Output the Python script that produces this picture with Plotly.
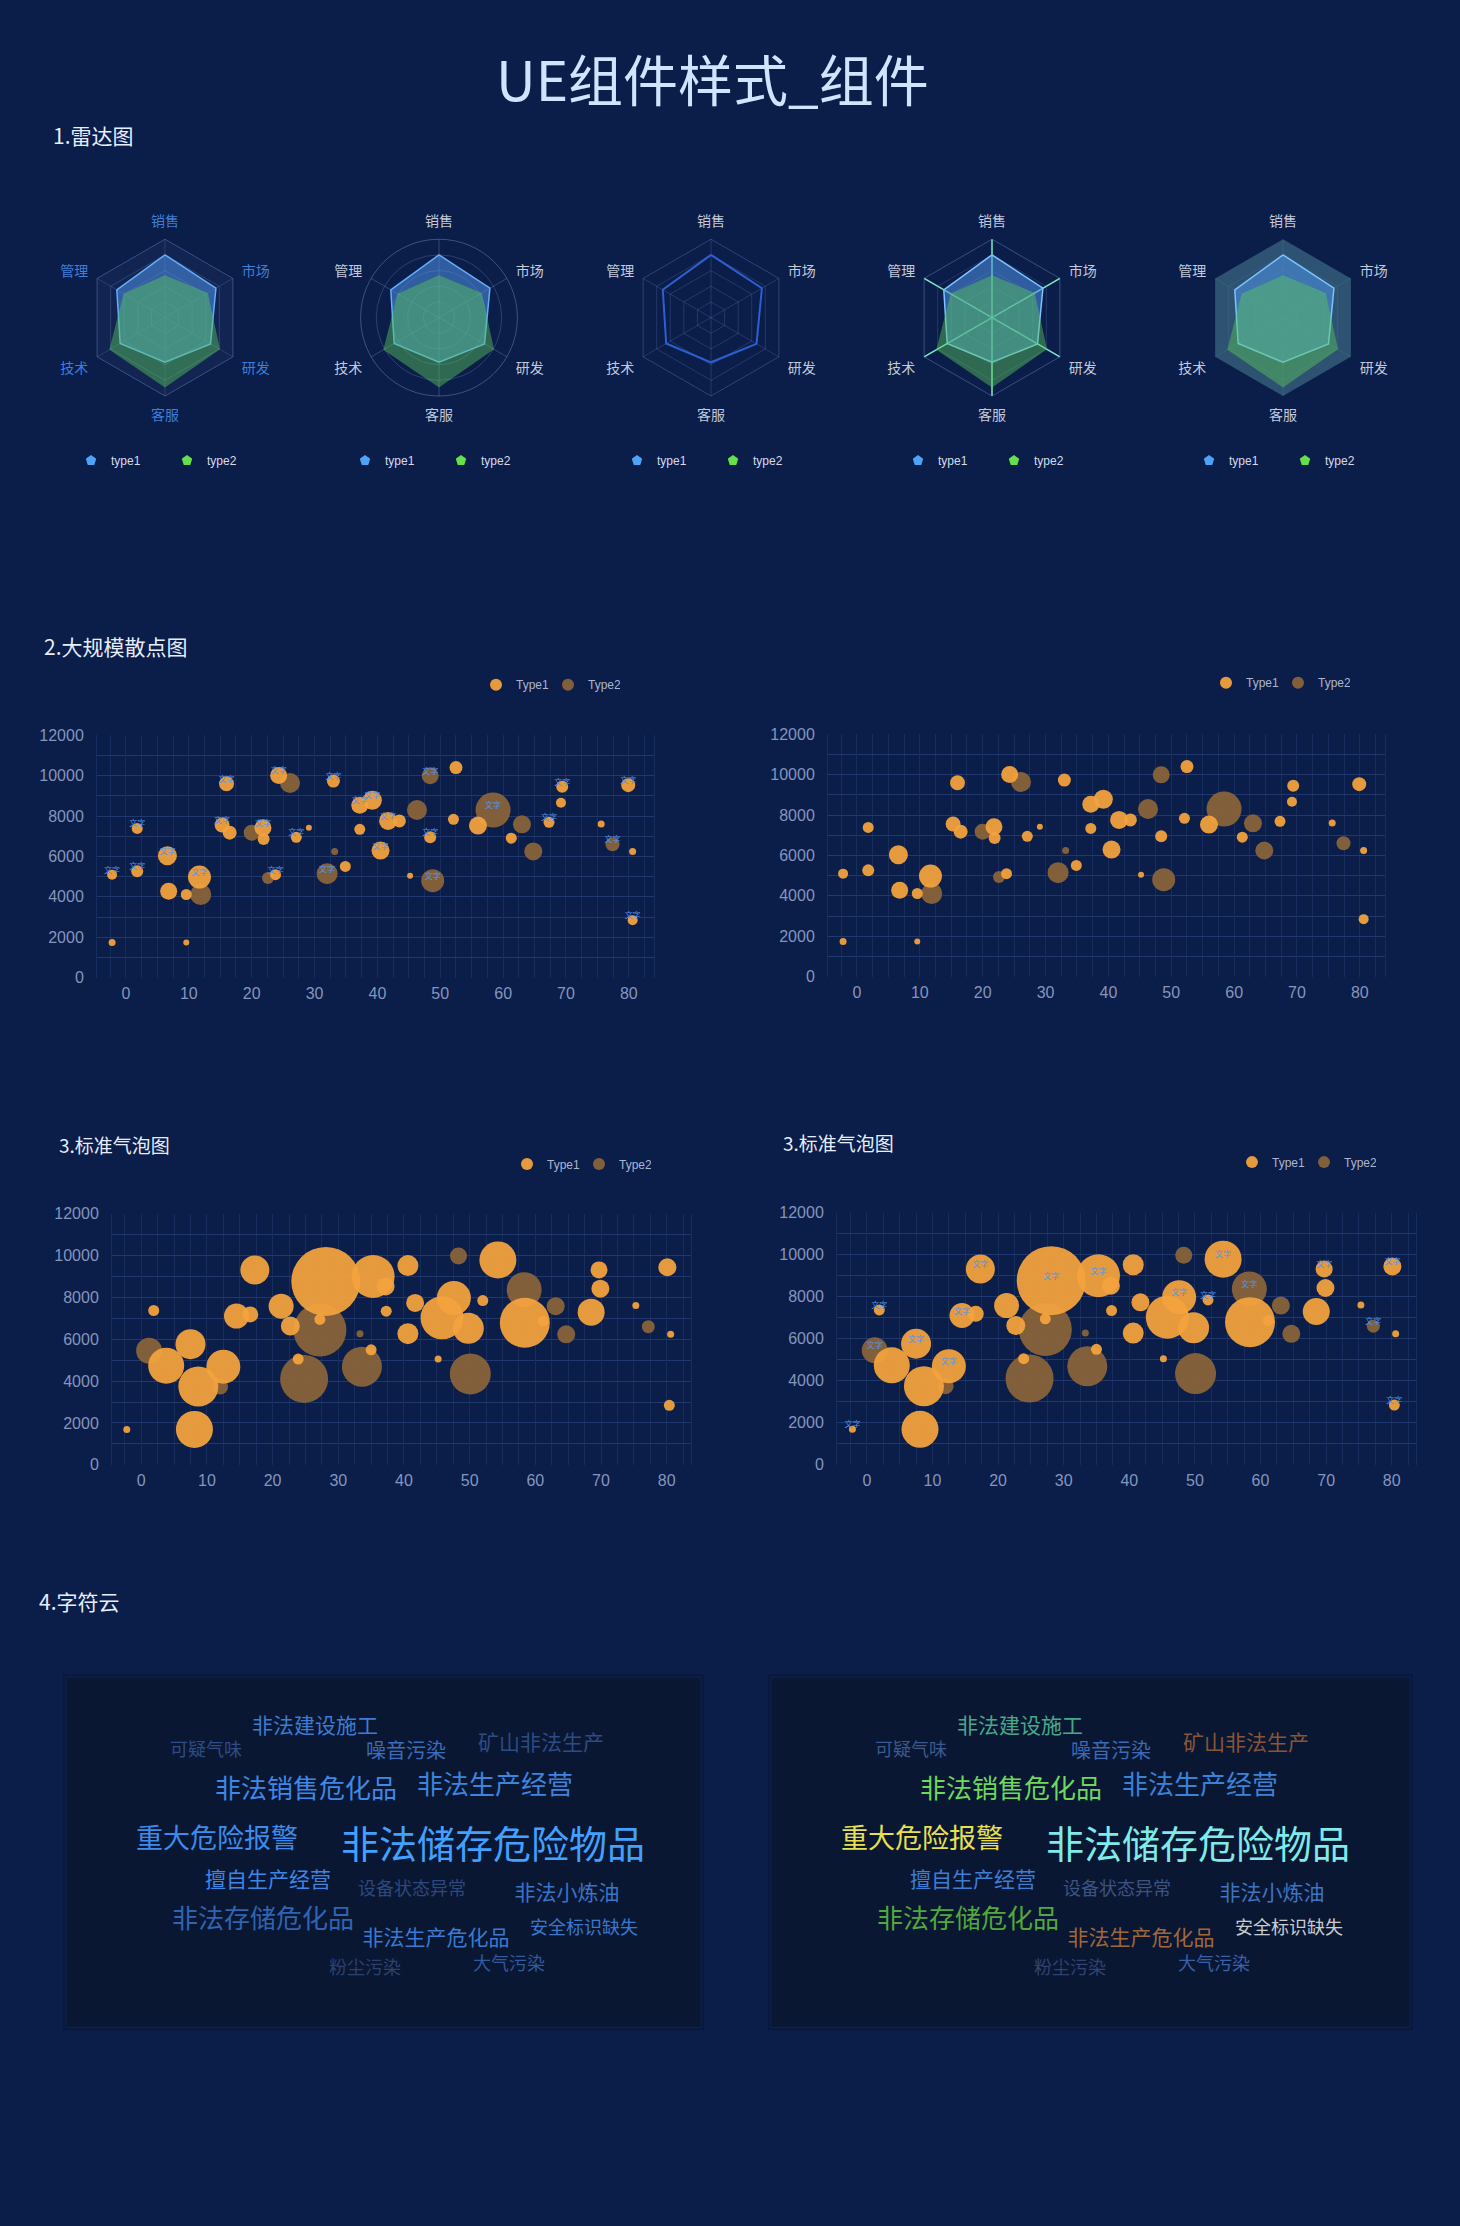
import plotly.graph_objects as go

W, H = 1460, 2226
BG = '#0b1d49'
FONT_CN = 'Noto Sans CJK SC'
FONT_NUM = 'Liberation Sans'


def fx(p):
    return p / W


def fy(p):
    return 1 - p / H


# ---------------- data ----------------
radar_axes = ['销售', '市场', '研发', '客服', '技术', '管理']
radar_type1 = [80, 75, 67, 57, 66, 71]
radar_type2 = [54, 63, 81, 89, 82, 61]
radar_names = ['type1', 'type2']

# large scatter (Type1 / Type2): x, y, size value
sc_t1_x = [-2.2, -2.2, 1.8, 1.8, 6.6, 6.8, 9.6, 9.6, 11.7, 16.0, 15.3, 16.5, 21.8, 21.9, 23.8, 24.3,
           27.1, 29.1, 33.0, 34.9, 37.2, 39.2, 37.2, 40.5, 41.7, 43.5, 45.2, 48.4, 52.5, 52.1, 56.0,
           61.3, 67.3, 69.4, 69.2, 75.6, 79.9, 80.6, 80.6]
sc_t1_y = [5100, 1736, 7392, 5262, 6034, 4279, 4115, 1736, 4982, 9605, 7559, 7180, 7426, 6870, 5100,
           10018, 6949, 7426, 9738, 5508, 8543, 8789, 7343, 6295, 7760, 7760, 5047, 6954, 10406, 7842,
           7530, 6905, 7694, 9453, 8664, 7612, 9535, 6247, 2844]
sc_t1_v = [10, 7, 11, 12, 19, 17, 11, 6, 23, 15, 15, 14, 17, 12, 11, 17, 11, 6, 13, 11, 17, 19, 11,
           18, 18, 13, 6, 12, 13, 11, 18, 11, 11, 12, 10, 7, 14, 7, 10]
sc_t1_tagged = [0, 2, 3, 4, 8, 9, 10, 12, 14, 15, 16, 18, 20, 21, 23, 24, 27, 32, 33, 36, 38]

sc_t2_x = [11.9, 20.0, 22.6, 26.1, 33.2, 32.0, 46.3, 48.4, 48.8, 58.4, 63.0, 64.8, 77.4]
sc_t2_y = [4115, 7180, 4933, 9640, 6246, 5149, 8302, 9995, 4800, 8302, 7595, 6247, 6609]
sc_t2_v = [21, 16, 12, 20, 7, 21, 20, 17, 23, 35, 18, 18, 14]
sc_t2_tagged = [5, 7, 8, 9, 12]

# standard bubble chart
bb_t1_x = [-2.2, 1.9, 3.8, 7.5, 8.7, 8.1, 12.5, 14.5, 16.6, 17.3, 21.3, 22.7, 23.9, 28.1, 27.2,
           35.3, 37.2, 37.3, 35.0, 40.6, 41.7, 40.6, 47.6, 45.8, 49.8, 45.2, 52.0, 54.3, 58.4, 61.2,
           68.5, 69.7, 69.9, 75.3, 80.1, 80.6, 80.4]
bb_t1_y = [1690, 7374, 4737, 5763, 3742, 1690, 4690, 7106, 7185, 9316, 7580, 6632, 5053, 8764, 6948,
           9000, 8527, 7342, 5495, 9521, 7737, 6269, 7974, 7027, 6521, 5053, 7848, 9790, 6790, 6869,
           7295, 9316, 8416, 7611, 9442, 6237, 2842]
bb_t1_v = [7, 11, 36, 30, 40, 37, 34, 25, 16, 29, 25, 19, 11, 69, 11, 43, 18, 11, 11, 21, 18, 21,
           34, 43, 31, 7, 11, 37, 50, 11, 27, 17, 18, 7, 18, 7, 11]
bb_t1_tagged = [0, 1, 3, 6, 7, 9, 13, 15, 22, 26, 27, 31, 34, 36]

bb_t2_x = [1.2, 12.0, 27.2, 24.8, 33.6, 33.3, 48.3, 50.1, 58.3, 63.1, 64.7, 77.2]
bb_t2_y = [5448, 3742, 6442, 4106, 4690, 6269, 9980, 4343, 8369, 7580, 6237, 6600]
bb_t2_v = [26, 16, 53, 48, 40, 7, 17, 41, 35, 18, 18, 13]
bb_t2_tagged = [0, 8, 11]

point_tag = '文字'

# word cloud
cloud_words = ['非法建设施工', '可疑气味', '噪音污染', '矿山非法生产', '非法销售危化品', '非法生产经营',
               '重大危险报警', '非法储存危险物品', '擅自生产经营', '设备状态异常', '非法小炼油',
               '非法存储危化品', '安全标识缺失', '非法生产危化品', '大气污染', '粉尘污染']
cloud_weight = [21, 18, 20, 21, 26, 26, 27, 38, 21, 18, 21, 26, 18, 21, 18, 18]

# ---------------- layout / styles ----------------
cloud_pos_x = [249, 140, 340, 475, 240, 429, 151, 427, 202, 346, 501, 197, 518, 370, 443, 299]
cloud_pos_y = [51, 75, 76, 68, 115, 111, 165, 173, 206, 215, 219, 246, 254, 265, 291, 295]
cloud_left_colors = ['#3d7cd2', '#2d4d84', '#3a6dbd', '#2c4c84', '#3d88e8', '#3d84de', '#3d8cec',
                     '#42a0ff', '#3c86e4', '#2b497c', '#3a74c6', '#3064b0', '#3a78cc', '#3a7ad0',
                     '#2f5aa0', '#28436e']
cloud_right_colors = ['#4aa88a', '#3c5a8c', '#3c6ab4', '#8a5535', '#6ed85a', '#3a82d8', '#e8e050',
                      '#80eaea', '#3d7ed4', '#3a5480', '#3e74c0', '#52a83a', '#c8ccd0', '#a0683a',
                      '#3a60a8', '#2e4570']

ORANGE = '#f3a33e'
BROWN = '#8c6539'
TAG_COLOR = '#4f95f0'
TICK = '#8496bc'
HGRID = '#20386b'
VGRID = '#162d5d'

T1_FILL = 'rgba(78,146,230,0.55)'
T2_FILL = 'rgba(90,200,90,0.45)'
LEG_T1 = '#4ea3f7'
LEG_T2 = '#66e04a'

radar_cx = [165, 439, 711, 992, 1283]
radar_cy = 312
R = 79
radar_styles = [
    dict(shape='linear', lab='#3d7fdc', grid='rgba(110,140,200,0.30)', spoke='rgba(110,140,200,0.25)',
         bg='rgba(130,160,220,0.06)', line='rgba(110,140,200,0.45)', fill=True, t1line='#62aefc'),
    dict(shape='circular', lab='#c3cbdb', grid='rgba(120,145,200,0.30)', spoke='rgba(120,145,200,0.35)',
         bg='rgba(0,0,0,0)', line='rgba(120,145,200,0.45)', fill=True, t1line='#62aefc'),
    dict(shape='linear', lab='#c3cbdb', grid='rgba(110,140,200,0.25)', spoke='rgba(110,140,200,0.25)',
         bg='rgba(0,0,0,0)', line='rgba(110,140,200,0.35)', fill=False, t1line='#2d5fd2'),
    dict(shape='linear', lab='#c3cbdb', grid='rgba(110,140,200,0.25)', spoke='#7cefbf',
         bg='rgba(0,0,0,0)', line='rgba(110,140,200,0.45)', fill=True, t1line='#7cc4ff'),
    dict(shape='linear', lab='#c3cbdb', grid='rgba(120,170,190,0.12)', spoke='rgba(120,170,190,0.15)',
         bg='rgba(80,135,155,0.5)', line='rgba(80,135,155,0.0)', fill=True, t1line='#7cc4ff'),
]

fig = go.Figure()
layout = dict(
    width=W, height=H, autosize=False,
    margin=dict(l=0, r=0, t=0, b=0, pad=0),
    paper_bgcolor=BG, plot_bgcolor='rgba(0,0,0,0)',
    font=dict(family=FONT_CN, color='#c9d3e6'),
    showlegend=True,
    hovermode=False,
)

theta_closed = radar_axes + [radar_axes[0]]
t1_closed = radar_type1 + [radar_type1[0]]
t2_closed = radar_type2 + [radar_type2[0]]

for i, (cx, st) in enumerate(zip(radar_cx, radar_styles)):
    pk = 'polar' if i == 0 else f'polar{i + 1}'
    lk = 'legend' if i == 0 else f'legend{i + 1}'
    layout[pk] = dict(
        domain=dict(x=[fx(cx - R), fx(cx + R)], y=[fy(radar_cy + R), fy(radar_cy - R)]),
        gridshape=st['shape'], bgcolor=st['bg'],
        angularaxis=dict(direction='clockwise', rotation=90, type='category',
                         categoryorder='array', categoryarray=radar_axes,
                         tickfont=dict(family=FONT_CN, size=14, color=st['lab']),
                         showline=True, linecolor=st['line'], linewidth=1,
                         showgrid=True, gridcolor=st['spoke'], gridwidth=1.5 if i == 3 else 1,
                         ticks='outside', ticklen=7, tickcolor='rgba(0,0,0,0)'),
        radialaxis=dict(range=[0, 100], tickvals=[20, 40, 60, 80, 100], showticklabels=False,
                        ticks='', showline=False, showgrid=True, gridcolor=st['grid']),
    )
    if st['fill']:
        fig.add_trace(go.Scatterpolar(r=t1_closed, theta=theta_closed, mode='lines', fill='toself',
                                      fillcolor=T1_FILL, line=dict(color=st['t1line'], width=1.5),
                                      subplot=pk, showlegend=False, hoverinfo='skip'))
        fig.add_trace(go.Scatterpolar(r=t2_closed, theta=theta_closed, mode='lines', fill='toself',
                                      fillcolor=T2_FILL, line=dict(color='rgba(0,0,0,0)', width=0),
                                      subplot=pk, showlegend=False, hoverinfo='skip'))
    else:
        fig.add_trace(go.Scatterpolar(r=t1_closed, theta=theta_closed, mode='lines',
                                      line=dict(color=st['t1line'], width=2),
                                      subplot=pk, showlegend=False, hoverinfo='skip'))
    for name, col in zip(radar_names, [LEG_T1, LEG_T2]):
        fig.add_trace(go.Scatterpolar(r=[None], theta=[None], mode='markers', name=name,
                                      marker=dict(symbol='pentagon', size=11, color=col),
                                      subplot=pk, legend=lk, hoverinfo='skip'))
    layout[lk] = dict(orientation='h', x=fx(cx - 72 - 22), y=fy(456), xanchor='left', yanchor='middle',
                      bgcolor='rgba(0,0,0,0)', font=dict(family=FONT_NUM, size=12, color='#d4dcec'),
                      entrywidth=51, entrywidthmode='pixels', itemclick=False, itemdoubleclick=False,
                      traceorder='normal')


def add_axes(n, xdom, ydom, xr):
    xa = dict(domain=[fx(xdom[0]), fx(xdom[1])], range=xr, tickmode='linear', tick0=0, dtick=10,
              showgrid=True, gridcolor=VGRID, gridwidth=1,
              minor=dict(tickmode='linear', tick0=0, dtick=2.5, showgrid=True, gridcolor=VGRID, gridwidth=1),
              zeroline=False, showline=False, ticks='',
              tickfont=dict(family=FONT_NUM, size=16, color=TICK), ticklabelstandoff=4,
              anchor='y' + n, fixedrange=True)
    ya = dict(domain=[fy(ydom[1]), fy(ydom[0])], range=[0, 12000], tickmode='linear', tick0=0, dtick=2000,
              tickformat='d',
              showgrid=True, gridcolor=HGRID, gridwidth=1,
              minor=dict(tickmode='linear', tick0=0, dtick=1000, showgrid=True, gridcolor=HGRID, gridwidth=1),
              zeroline=False, showline=True, linecolor=VGRID, mirror=True, ticks='',
              tickfont=dict(family=FONT_NUM, size=16, color=TICK), ticklabelstandoff=9,
              anchor='x' + n, fixedrange=True)
    layout['xaxis' + n] = xa
    layout['yaxis' + n] = ya


charts = [
    # axis suffix, x domain px, y domain px, x range, legend key, legend marker x, legend y, data set, tags
    ('', (97, 654), (733, 977), [-4.6, 84], 'legend6', 498, 682, 'sc', True),
    ('2', (828, 1385), (732, 976), [-4.6, 84], 'legend7', 1228, 680, 'sc', False),
    ('3', (112, 691), (1215, 1468), [-4.45, 83.7], 'legend8', 529, 1165, 'bb', False),
    ('4', (837, 1416), (1214, 1468), [-4.55, 83.7], 'legend9', 1254, 1163, 'bb', True),
]

for n, xd, yd, xr, lk, lx, ly, ds, tags in charts:
    add_axes(n, xd, yd, xr)
    xk, yk = 'x' + n, 'y' + n
    if ds == 'sc':
        t1 = (sc_t1_x, sc_t1_y, sc_t1_v, sc_t1_tagged)
        t2 = (sc_t2_x, sc_t2_y, sc_t2_v, sc_t2_tagged)
    else:
        t1 = (bb_t1_x, bb_t1_y, bb_t1_v, bb_t1_tagged)
        t2 = (bb_t2_x, bb_t2_y, bb_t2_v, bb_t2_tagged)
    # Type2 drawn under Type1
    for (xs, ys, vs, tg), name, col, op, rank in [(t2, 'Type2', BROWN, 0.92, 2), (t1, 'Type1', ORANGE, 0.94, 1)]:
        fig.add_trace(go.Scatter(x=xs, y=ys, mode='markers', name=name, xaxis=xk, yaxis=yk,
                                 marker=dict(size=vs, sizemode='diameter', sizeref=1, color=col,
                                             opacity=op, line=dict(width=0)),
                                 legend=lk, legendrank=rank, cliponaxis=False, hoverinfo='skip'))
        if tags:
            txt = [point_tag if k in tg else '' for k in range(len(xs))]
            fig.add_trace(go.Scatter(x=xs, y=ys, mode='text', text=txt, textposition='top center',
                                     textfont=dict(family=FONT_CN, size=8, color=TAG_COLOR),
                                     xaxis=xk, yaxis=yk, showlegend=False, cliponaxis=False,
                                     hoverinfo='skip'))
    layout[lk] = dict(orientation='h', x=fx(lx - 22), y=fy(ly), xanchor='left', yanchor='middle',
                      bgcolor='rgba(0,0,0,0)', font=dict(family=FONT_NUM, size=12, color='#aab6cf'),
                      entrywidth=27, entrywidthmode='pixels', itemsizing='constant',
                      itemclick=False, itemdoubleclick=False, traceorder='normal')

# word clouds
boxes = [('5', (66, 701), cloud_left_colors), ('6', (771, 1410), cloud_right_colors)]
box_top, box_bot = 1682, 2035
shapes = []
for n, (bx0, bx1), cols in boxes:
    shapes.append(dict(type='rect', xref='paper', yref='paper', x0=fx(bx0 - 3), x1=fx(bx1 + 3),
                       y0=fy(box_bot + 3), y1=fy(box_top - 3), fillcolor='rgba(6,18,45,0.35)',
                       line=dict(width=0), layer='below'))
    shapes.append(dict(type='rect', xref='paper', yref='paper', x0=fx(bx0), x1=fx(bx1),
                       y0=fy(box_bot), y1=fy(box_top), fillcolor='#0a1733',
                       line=dict(color='#0e2350', width=1), layer='below'))
    layout['xaxis' + n] = dict(domain=[fx(bx0), fx(bx1)], range=[0, bx1 - bx0], visible=False,
                               anchor='y' + n, fixedrange=True)
    layout['yaxis' + n] = dict(domain=[fy(box_bot), fy(box_top)], range=[box_bot - box_top, 0],
                               visible=False, anchor='x' + n, fixedrange=True)
    fig.add_trace(go.Scatter(x=cloud_pos_x, y=cloud_pos_y, mode='text', text=cloud_words,
                             textposition='middle center',
                             textfont=dict(family=FONT_CN, size=cloud_weight, color=cols),
                             xaxis='x' + n, yaxis='y' + n, showlegend=False, hoverinfo='skip'))

annotations = [
    dict(text='UE组件样式_组件', x=fx(712), y=fy(70), font=dict(family=FONT_CN, size=55, color='#cfe5ff')),
    dict(text='1.雷达图', x=fx(51), y=fy(128), xanchor='left', font=dict(family=FONT_CN, size=21, color='#e6eefc')),
    dict(text='2.大规模散点图', x=fx(42), y=fy(643), xanchor='left', font=dict(family=FONT_CN, size=21, color='#e6eefc')),
    dict(text='3.标准气泡图', x=fx(57), y=fy(1145), xanchor='left', font=dict(family=FONT_CN, size=19, color='#e6eefc')),
    dict(text='3.标准气泡图', x=fx(781), y=fy(1143), xanchor='left', font=dict(family=FONT_CN, size=19, color='#e6eefc')),
    dict(text='4.字符云', x=fx(37), y=fy(1605), xanchor='left', font=dict(family=FONT_CN, size=21, color='#e6eefc')),
]
for a in annotations:
    a.update(xref='paper', yref='paper', showarrow=False, yanchor='middle')
    a.setdefault('xanchor', 'center')

layout['annotations'] = annotations
layout['shapes'] = shapes
fig.update_layout(**layout)
fig.write_html('out.html', config=dict(displayModeBar=False, staticPlot=True))
